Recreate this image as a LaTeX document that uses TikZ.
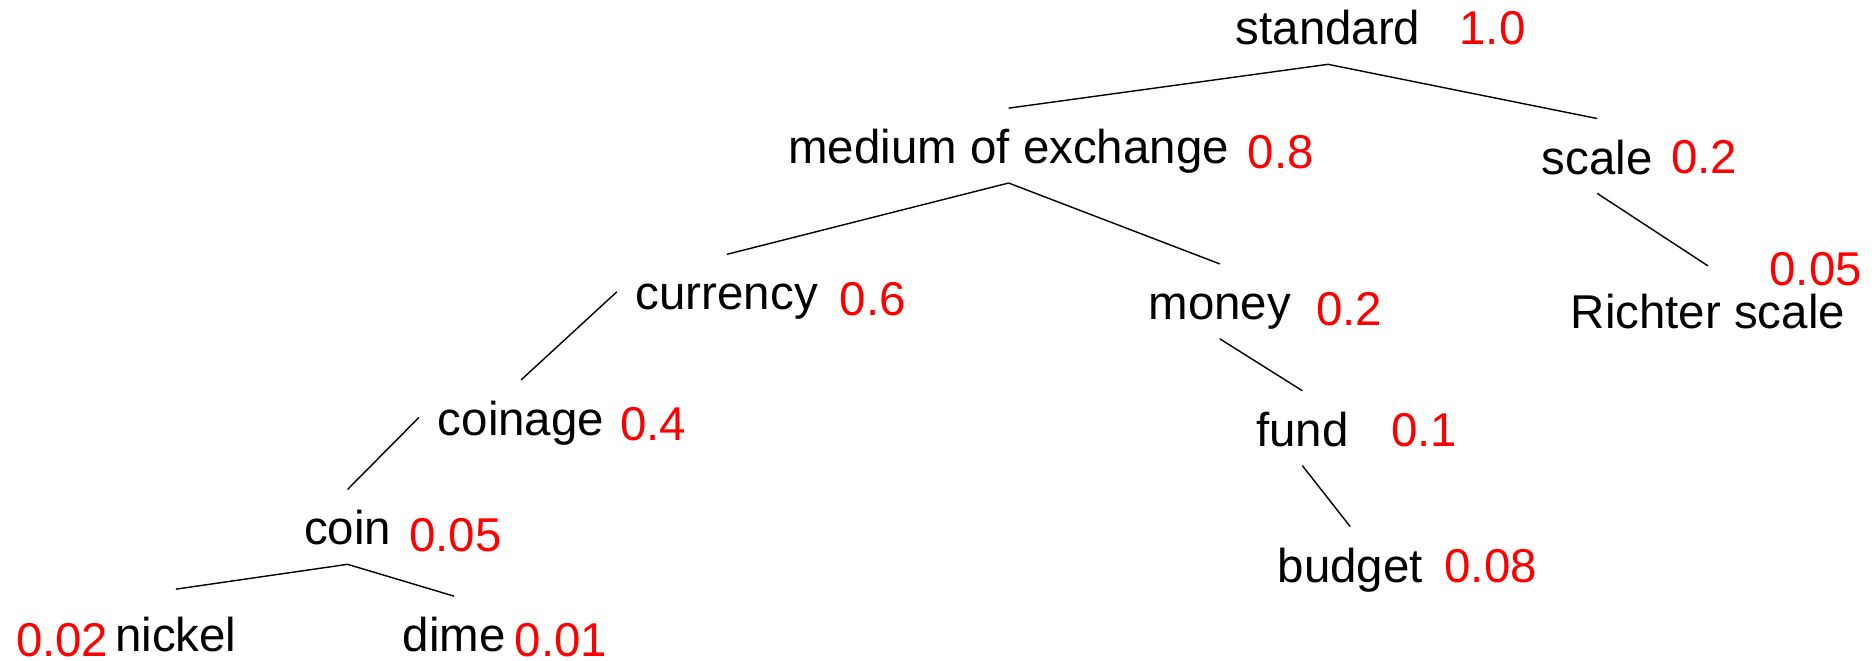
\documentclass[tikz,border=0pt]{standalone}
\usepackage{fontspec}
\setmainfont{Liberation Sans}
\begin{document}
\begin{tikzpicture}[
  x=0.011964cm, y=-0.011964cm,
  word/.style={anchor=base, inner xsep=5.2pt, inner ysep=0pt,
    text height=15.6pt, text depth=5.3pt,
    font=\fontsize{13.5}{16}\selectfont},
  weight/.style={anchor=base, inner sep=0pt, text=red,
    font=\fontsize{13.5}{16}\selectfont},
  edge/.style={draw=black, line width=0.4pt}
]
\useasboundingbox (0,0) rectangle (1568,552);

% concepts
\node[word] (standard) at (1110,37.6) {standard};
\node[word] (medium)   at (843,136.8) {medium of exchange};
\node[word] (scale)    at (1335,145.5) {scale};
\node[word] (richter)  at (1427.5,274.5) {Richter scale};
\node[word] (currency) at (607.5,259) {currency};
\node[word] (money)    at (1019.5,267) {money};
\node[word] (coinage)  at (435.5,364) {coinage};
\node[word] (fund)     at (1088.5,373) {fund};
\node[word] (coin)     at (290.5,455.5) {coin};
\node[word] (budget)   at (1128.5,486.5) {budget};
\node[word] (nickel)   at (147,544.7) {nickel};
\node[word] (dime)     at (379.5,544.7) {dime};

% weights
\node[weight] (wstandard) at (1247.5,37.6) {1.0};
\node[weight] (wmedium)   at (1070.5,141) {0.8};
\node[weight] (wscale)    at (1424.5,145) {0.2};
\node[weight] (wrichter)  at (1517.5,238.5) {0.05};
\node[weight] (wcurrency) at (729.5,264) {0.6};
\node[weight] (wmoney)    at (1127.5,272) {0.2};
\node[weight] (wcoinage)  at (546,368.5) {0.4};
\node[weight] (wfund)     at (1190.5,373) {0.1};
\node[weight] (wcoin)     at (380.5,461) {0.05};
\node[weight] (wbudget)   at (1246,486.5) {0.08};
\node[weight] (wnickel)   at (52,549) {0.02};
\node[weight] (wdime)     at (469,549) {0.01};

% hierarchy
\path[edge] (standard.south) -- (medium.north);
\path[edge] (standard.south) -- (scale.north);
\path[edge] (scale.south) -- ([yshift=2pt]richter.north);
\path[edge] (medium.south) -- (currency.north);
\path[edge] (medium.south) -- (money.north);
\path[edge] (currency.west) -- (coinage.north);
\path[edge] (money.south) -- (fund.north);
\path[edge] (coinage.west) -- (coin.north);
\path[edge] (fund.south) -- (budget.north);
\path[edge] (coin.south) -- ([yshift=2pt]nickel.north);
\path[edge] (coin.south) -- (dime.north);
\end{tikzpicture}
\end{document}
